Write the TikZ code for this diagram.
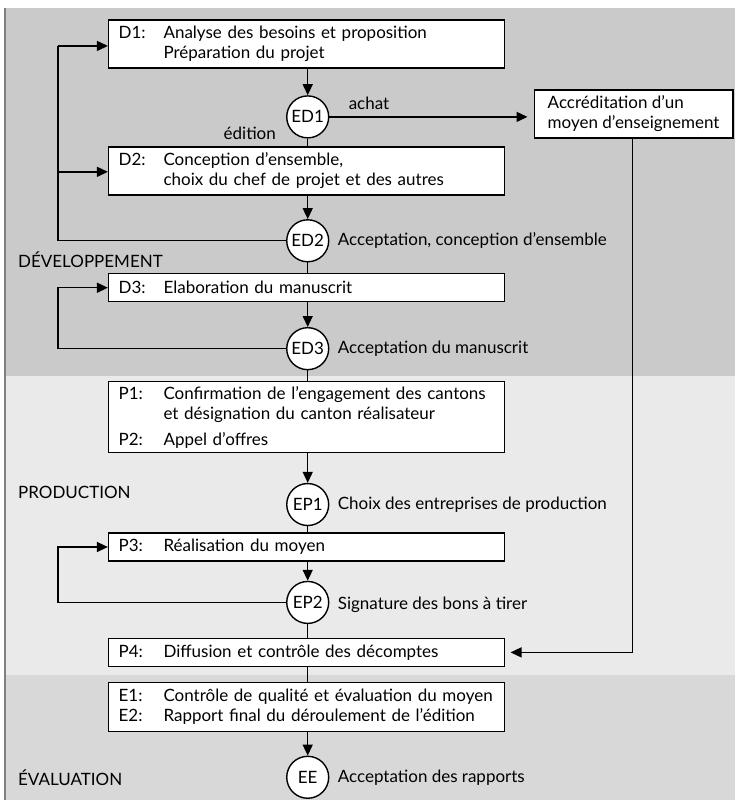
\documentclass[tikz,border=0pt]{standalone}
\usepackage{fontspec}
\setmainfont{Lato}
\usetikzlibrary{arrows.meta}

\definecolor{devgray}{RGB}{202,202,202}
\definecolor{progray}{RGB}{234,234,234}
\definecolor{evagray}{RGB}{216,216,216}

% step prefix with fixed width
\newcommand{\pref}[2]{\makebox[45pt][l]{#1}#2}

\tikzset{
    box/.style={draw, line width=1.4pt, fill=white, anchor=west,
        text width=376pt, inner xsep=10pt, inner ysep=0pt, align=left},
    gate/.style={draw, circle, line width=1.4pt, fill=white,
        minimum size=42pt, inner sep=0pt},
    note/.style={anchor=west, inner sep=0pt},
    link/.style={line width=1.4pt},
    go/.style={line width=1.4pt, -{Triangle[length=11pt,width=10pt]}}
}

\begin{document}
\begin{tikzpicture}[x=1pt, y=-1pt, font=\fontsize{17}{20}\selectfont]

    % bands
    \fill [white] (0,0) rectangle (736,801);
    \fill [devgray] (5,8) rectangle (736,376);
    \fill [progray] (5,376) rectangle (736,676);
    \fill [evagray] (5,676) rectangle (736,801);
    \draw [line width=1.5pt, gray] (5,8) -- (5,801);

    % phase labels
    \node [note] (dev) at (18,260) {DÉVELOPPEMENT};
    \node [note] (pro) at (18,493) {PRODUCTION};
    \node [note] (eva) at (18,778) {ÉVALUATION};

    % steps
    \node [box, minimum height=48pt] (d1) at (108,44)
        {\pref{D1:}{Analyse des besoins et proposition}\\
         \pref{}{Préparation du projet}};
    \node [box, minimum height=48pt] (d2) at (108,171)
        {\pref{D2:}{Conception d’ensemble,}\\
         \pref{}{choix du chef de projet et des autres}};
    \node [box, minimum height=28pt] (d3) at (108,288)
        {\pref{D3:}{Elaboration du manuscrit}};
    \node [box, minimum height=71pt] (p1) at (108,417.5)
        {\pref{P1:}{Confirmation de l’engagement des cantons}\\
         \pref{}{et désignation du canton réalisateur}\\[6pt]
         \pref{P2:}{Appel d’offres}};
    \node [box, minimum height=28pt] (p3) at (108,547.5)
        {\pref{P3:}{Réalisation du moyen}};
    \node [box, minimum height=28pt] (p4) at (108,653)
        {\pref{P4:}{Diffusion et contrôle des décomptes}};
    \node [box, minimum height=49pt] (e1) at (108,707.5)
        {\pref{E1:}{Contrôle de qualité et évaluation du moyen}\\
         \pref{E2:}{Rapport final du déroulement de l’édition}};

    % accreditation
    \node [draw, line width=1.4pt, fill=white, anchor=west,
        minimum width=199pt, minimum height=48pt, align=left,
        inner xsep=12pt] (acc) at (534,114)
        {Accréditation d’un\\moyen d’enseignement};

    % gates
    \node [gate] (ed1) at (308,117) {ED1};
    \node [gate] (ed2) at (308,241) {ED2};
    \node [gate] (ed3) at (308,349) {ED3};
    \node [gate] (ep1) at (308,505) {EP1};
    \node [gate] (ep2) at (308,603) {EP2};
    \node [gate] (ee) at (308,778) {EE};

    % gate texts
    \node [note] (ed2t) at (338,241) {Acceptation, conception d’ensemble};
    \node [note] (ed3t) at (338,349) {Acceptation du manuscrit};
    \node [note] (ep1t) at (338,505) {Choix des entreprises de production};
    \node [note] (ep2t) at (338,605) {Signature des bons à tirer};
    \node [note] (eet) at (338,778) {Acceptation des rapports};
    \node (edi) at (250,133) {édition};

    % main flow
    \draw [go] (d1.south -| ed1) -- (ed1);
    \draw [link] (ed1) -- (d2.north -| ed1);
    \draw [go] (d2.south -| ed2) -- (ed2);
    \draw [link] (ed2) -- (d3.north -| ed2);
    \draw [go] (d3.south -| ed3) -- (ed3);
    \draw [link] (ed3) -- (p1.north -| ed3);
    \draw [go] (p1.south -| ep1) -- (ep1);
    \draw [link] (ep1) -- (p3.north -| ep1);
    \draw [go] (p3.south -| ep2) -- (ep2);
    \draw [link] (ep2) -- (p4.north -| ep2);
    \draw [link] (p4.south -| ep2) -- (e1.north -| ep2);
    \draw [go] (e1.south -| ee) -- (ee);

    % achat branch
    \coordinate (accin) at (528,117);
    \draw [go] (ed1) -- (accin) node [pos=0.2, above=3pt] (ach) {achat};

    % loops back
    \coordinate (l1) at (58,241);
    \coordinate (l1a) at (58,46);
    \coordinate (l1b) at (58,172);
    \draw [link] (ed2) -- (l1) -- (l1a);
    \draw [go] (l1a) -- (l1a -| d1.west);
    \draw [go] (l1b) -- (l1b -| d2.west);

    \coordinate (l2) at (58,349);
    \coordinate (l2a) at (58,288);
    \draw [go] (ed3) -- (l2) -- (l2a) -- (d3.west);

    \coordinate (l3) at (58,603);
    \coordinate (l3a) at (58,547.5);
    \draw [go] (ep2) -- (l3) -- (l3a) -- (p3.west);

    % accreditation to P4
    \coordinate (r1) at (633,653);
    \coordinate (p4in) at (511,653);
    \draw [go] (acc.south -| r1) -- (r1) -- (p4in);

\end{tikzpicture}
\end{document}
